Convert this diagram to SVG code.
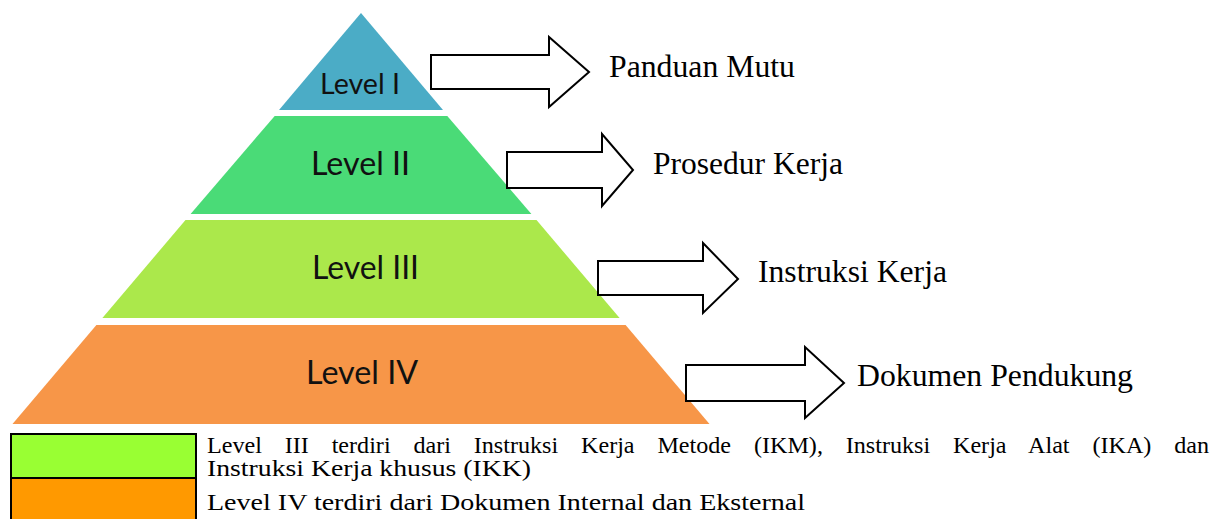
<svg xmlns="http://www.w3.org/2000/svg" width="1217" height="519" viewBox="0 0 1217 519">
<style>
.lvl{font-family:Lato,"Open Sans","Liberation Sans",sans-serif;fill:#111}
.lbl{font-family:"Liberation Serif","Times New Roman",serif;font-size:31.5px;fill:#000}
.leg{font-family:"Liberation Serif","Times New Roman",serif;font-size:23px;fill:#000}
.arr{fill:#fff;stroke:#000;stroke-width:2;stroke-linejoin:miter}
.box{stroke:#000;stroke-width:2}
</style>
<rect width="1217" height="519" fill="#fff"/>
<g id="level1">
<polygon points="361,13 443,110 279,110" fill="#4BACC6"/>
<text class="lvl" x="320" y="94" font-size="28" textLength="80" lengthAdjust="spacingAndGlyphs">Level I</text>
</g>
<g id="level2">
<polygon points="274.7,116 447.3,116 531.4,214 190.6,214" fill="#4ADB77"/>
<text class="lvl" x="311" y="175" font-size="33" textLength="99" lengthAdjust="spacingAndGlyphs">Level II</text>
</g>
<g id="level3">
<polygon points="185.5,220 536.5,220 619.6,318 102.4,318" fill="#ABE84B"/>
<text class="lvl" x="312" y="279" font-size="33" textLength="107" lengthAdjust="spacingAndGlyphs">Level III</text>
</g>
<g id="level4">
<polygon points="96.4,325 625.6,325 709.5,424 12.5,424" fill="#F79648"/>
<text class="lvl" x="306" y="384" font-size="33" textLength="112" lengthAdjust="spacingAndGlyphs">Level IV</text>
</g>
<g id="connectors">
<polygon class="arr" points="431,55 549,55 549,37 589,72 549,107 549,89 431,89"/>
<polygon class="arr" points="507,152 602,152 602,134 633,170 602,206 602,188 507,188"/>
<polygon class="arr" points="598,261 703,261 703,243 738,279 703,313 703,295 598,295"/>
<polygon class="arr" points="686,365 805,365 805,347 844,383 805,418 805,401 686,401"/>
</g>
<g id="label1"><text class="lbl" x="609" y="77" textLength="186" lengthAdjust="spacingAndGlyphs">Panduan Mutu</text></g>
<g id="label2"><text class="lbl" x="653" y="174" textLength="190" lengthAdjust="spacingAndGlyphs">Prosedur Kerja</text></g>
<g id="label3"><text class="lbl" x="758" y="282" textLength="189" lengthAdjust="spacingAndGlyphs">Instruksi Kerja</text></g>
<g id="label4"><text class="lbl" x="857" y="386" textLength="276" lengthAdjust="spacingAndGlyphs">Dokumen Pendukung</text></g>
<g id="legend">
<rect class="box" x="11" y="434" width="185" height="44" fill="#99FF33"/>
<rect class="box" x="11" y="478" width="185" height="44" fill="#FF9900"/>
<text class="leg" x="207" y="453" word-spacing="16" textLength="1002" lengthAdjust="spacingAndGlyphs">Level III terdiri dari Instruksi Kerja Metode (IKM), Instruksi Kerja Alat (IKA) dan</text>
<text class="leg" x="207" y="476" textLength="324" lengthAdjust="spacingAndGlyphs">Instruksi Kerja khusus (IKK)</text>
<text class="leg" x="207" y="510" textLength="598" lengthAdjust="spacingAndGlyphs">Level IV terdiri dari Dokumen Internal dan Eksternal</text>
</g>
</svg>
